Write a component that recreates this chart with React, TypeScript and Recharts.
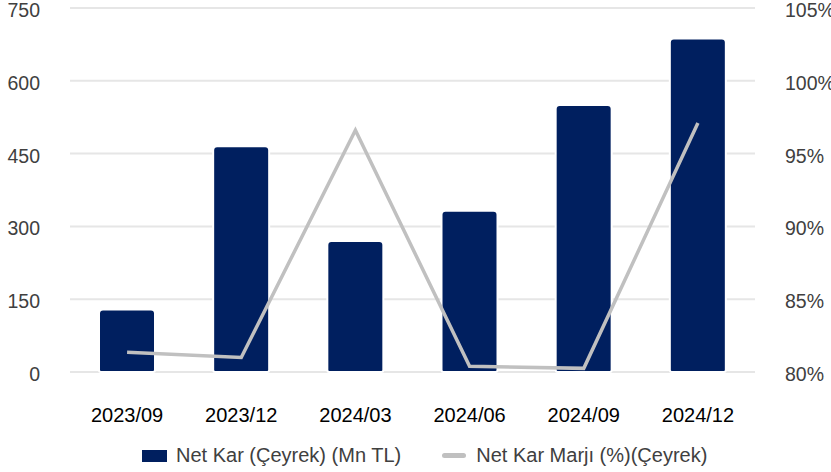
import React from "react";
import {
  ComposedChart,
  Bar,
  Line,
  XAxis,
  YAxis,
  CartesianGrid,
  Legend,
} from "recharts";

const categories = ["2023/09", "2023/12", "2024/03", "2024/06", "2024/09", "2024/12"];
const netKar = [129, 465, 270, 332, 550, 687];
const netKarMarji = [81.35, 81.0, 96.6, 80.4, 80.25, 97.1];
const leftTicks = [0, 150, 300, 450, 600, 750];
const rightTicks = [80, 85, 90, 95, 100, 105];
const seriesNames = ["Net Kar (Çeyrek) (Mn TL)", "Net Kar Marjı (%)(Çeyrek)"];

const data = categories.map((c, i) => ({
  name: c,
  kar: netKar[i],
  marj: netKarMarji[i],
}));

const FONT = '"Liberation Sans", Arial, sans-serif';
const NAVY = "#001F5F";
const GRAY = "#C0C0C0";

const renderLegend = () => (
  <div
    style={{
      display: "flex",
      alignItems: "center",
      height: 24,
      paddingLeft: 142,
      fontFamily: FONT,
      fontSize: 20,
      color: "#404040",
      whiteSpace: "nowrap",
    }}
  >
    <span style={{ display: "inline-block", width: 25, height: 12, background: NAVY }} />
    <span style={{ marginLeft: 9 }}>{seriesNames[0]}</span>
    <span
      style={{
        display: "inline-block",
        width: 24,
        height: 5,
        borderRadius: 3,
        background: GRAY,
        marginLeft: 41,
      }}
    />
    <span style={{ marginLeft: 10 }}>{seriesNames[1]}</span>
  </div>
);

const LeftTick = (props: any) => {
  const { x, y, payload } = props;
  return (
    <text x={x} y={y + 2} dy="0.355em" textAnchor="end" fill="#404040" fontSize={19.5} fontFamily={FONT}>
      {payload.value}
    </text>
  );
};

const RightTick = (props: any) => {
  const { x, y, payload } = props;
  return (
    <text x={x} y={y + 2} dy="0.355em" textAnchor="start" fill="#404040" fontSize={19.5} fontFamily={FONT}>
      {`${payload.value}%`}
    </text>
  );
};

export default function App() {
  return (
    <div style={{ position: "absolute", left: 0, top: 0, width: 831, height: 472, background: "#fff" }}>
      <ComposedChart
        width={831}
        height={472}
        data={data}
        margin={{ top: 8, right: 0, bottom: 0, left: 0 }}
        style={{ fontFamily: FONT }}
      >
        <CartesianGrid vertical={false} stroke="#E6E6E6" strokeWidth={2} yAxisId="left" />
        <XAxis
          dataKey="name"
          axisLine={false}
          tickLine={false}
          tickSize={0}
          tickMargin={36}
          height={76}
          interval={0}
          tick={{ fill: "#000000", fontSize: 20, fontFamily: FONT }}
        />
        <YAxis
          yAxisId="left"
          orientation="left"
          domain={[0, 750]}
          ticks={leftTicks}
          width={70}
          axisLine={false}
          tickLine={false}
          tickSize={0}
          tickMargin={30}
          interval={0}
          tick={<LeftTick />}
        />
        <YAxis
          yAxisId="right"
          orientation="right"
          domain={[80, 105]}
          ticks={rightTicks}
          width={76}
          axisLine={false}
          tickLine={false}
          tickSize={0}
          tickMargin={30}
          interval={0}
          tick={<RightTick />}
        />
        <Bar
          yAxisId="left"
          dataKey="kar"
          name={seriesNames[0]}
          fill={NAVY}
          barSize={56}
          stroke="#FFFFFF"
          strokeWidth={2}
          radius={[4, 4, 2, 2]}
          isAnimationActive={false}
        />
        <Line
          yAxisId="right"
          dataKey="marj"
          name={seriesNames[1]}
          type="linear"
          stroke={GRAY}
          strokeWidth={3.5}
          dot={false}
          activeDot={false}
          isAnimationActive={false}
        />
        <Legend
          content={renderLegend}
          height={24}
          wrapperStyle={{ position: "absolute", top: 443.5, left: 0, width: 831, bottom: "auto", height: 24 }}
        />
      </ComposedChart>
    </div>
  );
}
